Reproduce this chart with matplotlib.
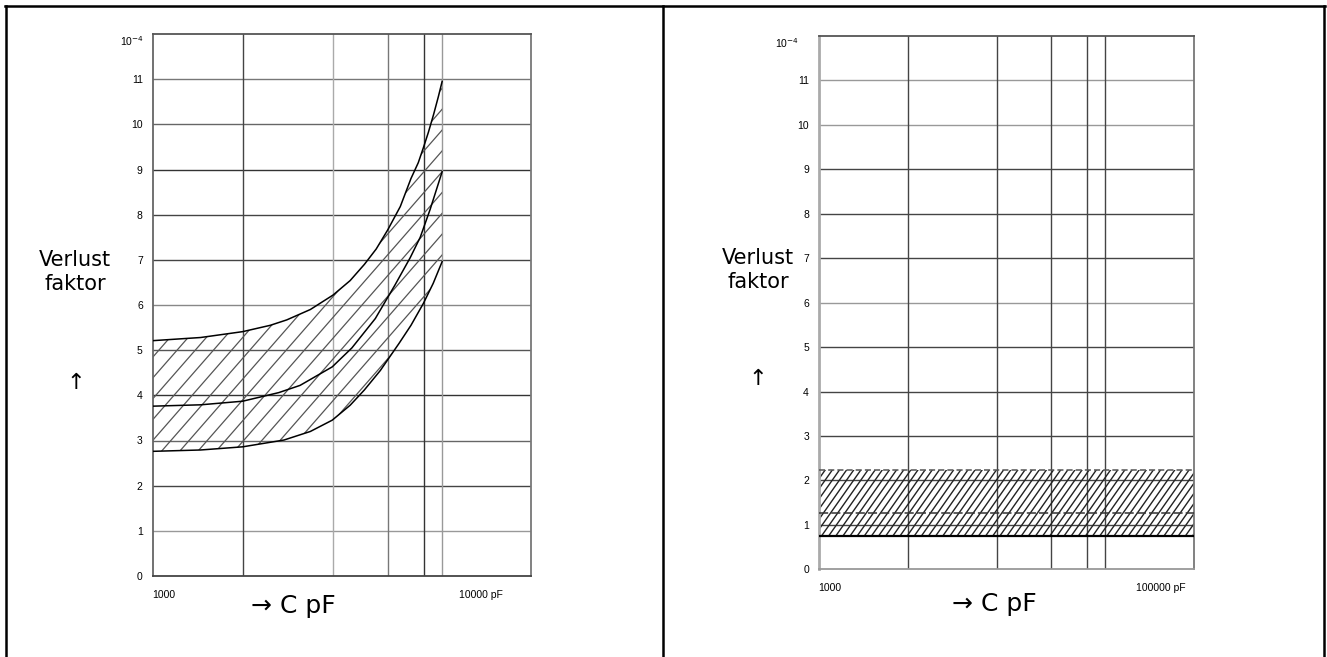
import numpy as np
import matplotlib
matplotlib.use("Agg")
import matplotlib.pyplot as plt
from matplotlib.collections import LineCollection
from matplotlib.lines import Line2D

# ---- left chart: loss factor (x 1e-4) vs capacitance (pF), log axis ----
left_grid_c = [1880, 3540, 5190, 6680, 7600]
left_grid_col = ["#444444", "#aaaaaa", "#777777", "#333333", "#999999"]
left_xlim = (1000, 14200)

upper_c = [1000, 1400, 1880, 2280, 2560, 3020, 3540, 3990, 4410, 4790, 5190,
           5670, 6110, 6430, 6670, 6900, 7160, 7400, 7600]
upper_v = [5.21, 5.28, 5.41, 5.55, 5.67, 5.90, 6.22, 6.54, 6.90, 7.24, 7.66,
           8.18, 8.80, 9.15, 9.49, 9.82, 10.22, 10.61, 10.95]

middle_c = [1000, 1400, 1880, 2420, 2810, 3520, 4040, 4760, 5470, 6080, 6520, 6990, 7600]
middle_v = [3.76, 3.79, 3.87, 4.06, 4.22, 4.63, 5.05, 5.70, 6.45, 7.05, 7.50, 8.12, 8.95]

lower_c = [1000, 1400, 1880, 2510, 3020, 3520, 3990, 4410, 4930, 5620, 6110, 6670, 7140, 7600]
lower_v = [2.76, 2.79, 2.86, 3.01, 3.20, 3.45, 3.78, 4.12, 4.55, 5.15, 5.55, 6.04, 6.48, 6.96]

# ---- right chart: constant band ----
right_grid_c = [3330, 11070, 22900, 37030, 47370]
right_xlim = (1000, 156800)
band_low = 0.76
band_mid = 1.27
band_high = 2.24

y_ticks = list(range(0, 12))
h_grid_left = ["#999999", "#444444", "#666666", "#333333", "#555555", "#888888",
               "#444444", "#444444", "#333333", "#666666", "#777777"]
h_grid_right = ["#444444", "#444444", "#444444", "#444444", "#444444", "#999999",
                "#444444", "#444444", "#444444", "#999999", "#999999"]

W, H = 1327, 657
fig = plt.figure(figsize=(W / 100, H / 100), dpi=100)
fig.patch.set_facecolor("white")


def fx(px):
    return px / W


def fy(py):
    return 1 - py / H


def hatch(ax, clip, slope, step, color, lw):
    # slanted lines in axes fraction, clipped to the filled region
    segs = []
    for x0 in np.arange(-3, 1.5, step):
        segs.append([(x0, 0), (x0 + 3, 3 * slope)])
    lc = LineCollection(segs, colors=color, linewidths=lw, transform=ax.transAxes)
    ax.add_collection(lc)
    lc.set_clip_path(clip)


def setup(ax, xlim, xticks, xlabels, hgrid, vgrid, vcols, spine_cols):
    ax.set_xscale("log")
    ax.set_xlim(*xlim)
    ax.set_ylim(0, 12)
    ax.set_yticks(y_ticks)
    ax.set_yticklabels([str(t) for t in y_ticks])
    ax.set_xticks(xticks)
    ax.set_xticklabels(xlabels)
    ax.xaxis.set_minor_locator(matplotlib.ticker.NullLocator())
    ax.tick_params(axis="y", length=0, pad=7, labelsize=7.5)
    ax.tick_params(axis="x", length=0, pad=10, labelsize=7.5)
    for lab in ax.get_xticklabels() + ax.get_yticklabels():
        lab.set_family(["Liberation Sans", "DejaVu Sans"])
    ax.get_xticklabels()[0].set_horizontalalignment("left")
    for v, c in zip(y_ticks[1:], hgrid[:len(y_ticks) - 1]):
        ax.axhline(v, color=c, lw=1.0, zorder=1)
    for v, c in zip(vgrid, vcols):
        ax.axvline(v, color=c, lw=1.0, zorder=1)
    for side, c in spine_cols.items():
        ax.spines[side].set_color(c)
        ax.spines[side].set_linewidth(1.3)


# left chart
ax1 = fig.add_axes([fx(152.5), 1 - 576 / H, fx(531.4 - 152.5), 542 / H])
setup(ax1, left_xlim, [1000, 10000], ["1000", "10000 pF"],
      h_grid_left, left_grid_c, left_grid_col,
      {"left": "#666666", "top": "#555555", "right": "#777777", "bottom": "#444444"})
# outline of the band: along the upper curve, back along the lower curve
region = ax1.fill(upper_c + lower_c[::-1], upper_v + lower_v[::-1],
                  facecolor="none", edgecolor="none")[0]
hatch(ax1, region, 0.80, 0.048, "#555555", 0.9)
ax1.plot(upper_c, upper_v, color="black", lw=1.1, zorder=3)
ax1.plot(middle_c, middle_v, color="black", lw=1.1, zorder=3)
ax1.plot(lower_c, lower_v, color="black", lw=1.1, zorder=3)
ax1.annotate("10$^{-4}$", xy=(0, 12), xycoords=("axes fraction", "data"),
             xytext=(-9, -7), textcoords="offset pixels", ha="right", va="center",
             fontsize=7.5, family=["Liberation Sans", "DejaVu Sans"])

# right chart
ax2 = fig.add_axes([fx(818.7), 1 - 569.3 / H, fx(1194.2 - 818.7), 533.3 / H])
setup(ax2, right_xlim, [1000, 100000], ["1000", "100000 pF"],
      h_grid_right, right_grid_c, ["#444444"] * len(right_grid_c),
      {"left": "#aaaaaa", "top": "#555555", "right": "#777777", "bottom": "#999999"})
ax2.spines["left"].set_linewidth(2)
band = ax2.fill(right_xlim + right_xlim[::-1], [band_low, band_low, band_high, band_high],
                facecolor="none", edgecolor="none")[0]
hatch(ax2, band, 1.0, 0.0190, "#222222", 1.0)
ax2.axhline(band_high, color="#555555", lw=1.1, ls=(0, (4, 2)), zorder=3)
ax2.axhline(band_mid, color="#333333", lw=1.1, ls=(0, (6, 2)), zorder=3)
ax2.axhline(band_low, color="black", lw=1.6, zorder=3)
ax2.annotate("10$^{-4}$", xy=(0, 12), xycoords=("axes fraction", "data"),
             xytext=(-20, -7), textcoords="offset pixels", ha="right", va="center",
             fontsize=7.5, family=["Liberation Sans", "DejaVu Sans"])

# axis captions
for cx, cy, ax_x, ay, lx, ly in [(75, 272, 75.7, 383, 293.8, 606),
                                 (758, 270, 757.8, 379, 994, 604)]:
    fig.text(fx(cx), fy(cy), "Verlust\nfaktor", ha="center", va="center",
             fontsize=15, linespacing=1.3, family="DejaVu Sans")
    fig.text(fx(ax_x), fy(ay), "\u2191", ha="center", va="center", fontsize=16,
             family="DejaVu Sans")
    fig.text(fx(lx), fy(ly), "\u2192 C pF", ha="center", va="center", fontsize=18,
             family="DejaVu Sans")

# table borders
border = dict(color="black", lw=1.8, transform=fig.transFigure)
fig.add_artist(Line2D([fx(5), fx(1325)], [fy(6.3), fy(6.3)], **border))
fig.add_artist(Line2D([fx(5.8), fx(5.8)], [fy(6.3), 0], **border))
fig.add_artist(Line2D([fx(662.7), fx(662.7)], [fy(6.3), 0], **border))
fig.add_artist(Line2D([fx(1324.3), fx(1324.3)], [fy(6.3), 0], **border))

fig.savefig("out.png", dpi=100, facecolor="white")
